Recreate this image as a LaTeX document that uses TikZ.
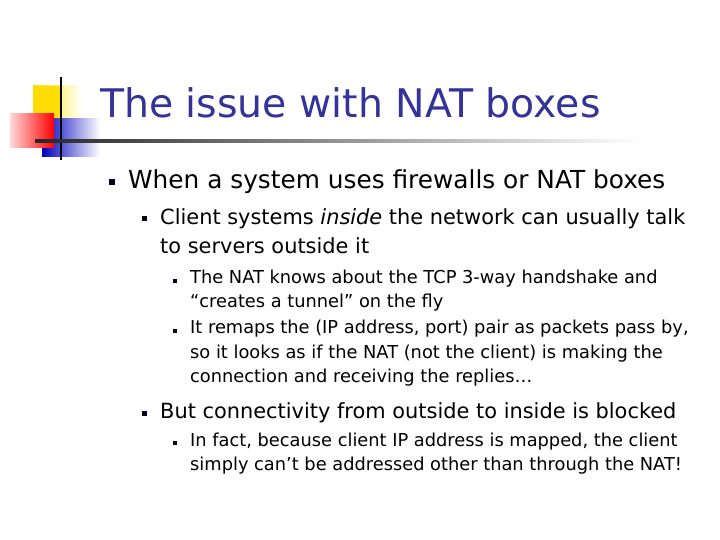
\documentclass[tikz,border=0pt]{standalone}
\usepackage{fontspec}
\setmainfont{DejaVu Sans}
\definecolor{ttl}{RGB}{51,51,153}
\begin{document}
\begin{tikzpicture}[x=1pt,y=-1pt,
  bul/.style={fill=black!85!blue,minimum size=5pt,inner sep=0pt},
  t/.style={anchor=base west,inner sep=0pt,text=black},
  lone/.style={t,font=\fontsize{24.8}{28}\selectfont},
  ltwo/.style={t,font=\fontsize{20.9}{24}\selectfont},
  lthree/.style={t,font=\fontsize{17.8}{19}\selectfont}]
\useasboundingbox[fill=white] (0,0) rectangle (720,540);
\fill[left color=yellow!80!orange,right color=white] (33,86) rectangle (82,121);
\fill[yellow!80!orange] (33,86) rectangle (62,121);
\fill[left color=blue!75!black,right color=white] (42,119) rectangle (100,157);
\fill[left color=red!15,right color=red] (10,114) rectangle (54,148);
\draw[line width=2pt] (61,77) -- (61,160);
\shade[left color=black!85,right color=white] (35,140) rectangle (640,142.5);
\node[t,text=ttl,font=\fontsize{39.4}{44}\selectfont] (title) at (100,118) {The issue with NAT boxes};
\node[bul,minimum size=6pt] (b1) at (112,182) {};
\node[lone] (l1) at (128,189) {When a system uses firewalls or NAT boxes};
\node[bul] (b2) at (144,219) {};
\node[ltwo] (l2a) at (160,225) {Client systems \emph{inside} the network can usually talk};
\node[ltwo] (l2b) at (160,253) {to servers outside it};
\node[bul,minimum size=4pt] (b3) at (175,281) {};
\node[lthree] (l3a) at (190,283) {The NAT knows about the TCP 3-way handshake and};
\node[lthree] (l3b) at (190,307) {“creates a tunnel” on the fly};
\node[bul,minimum size=4pt] (b4) at (175,331) {};
\node[lthree] (l4a) at (190,333) {It remaps the (IP address, port) pair as packets pass by,};
\node[lthree] (l4b) at (190,358) {so it looks as if the NAT (not the client) is making the};
\node[lthree] (l4c) at (190,382) {connection and receiving the replies…};
\node[bul] (b5) at (144,413) {};
\node[ltwo] (l5) at (160,418) {But connectivity from outside to inside is blocked};
\node[bul,minimum size=4pt] (b6) at (175,443) {};
\node[lthree] (l6a) at (190,446) {In fact, because client IP address is mapped, the client};
\node[lthree] (l6b) at (190,470) {simply can’t be addressed other than through the NAT!};
\end{tikzpicture}
\end{document}
